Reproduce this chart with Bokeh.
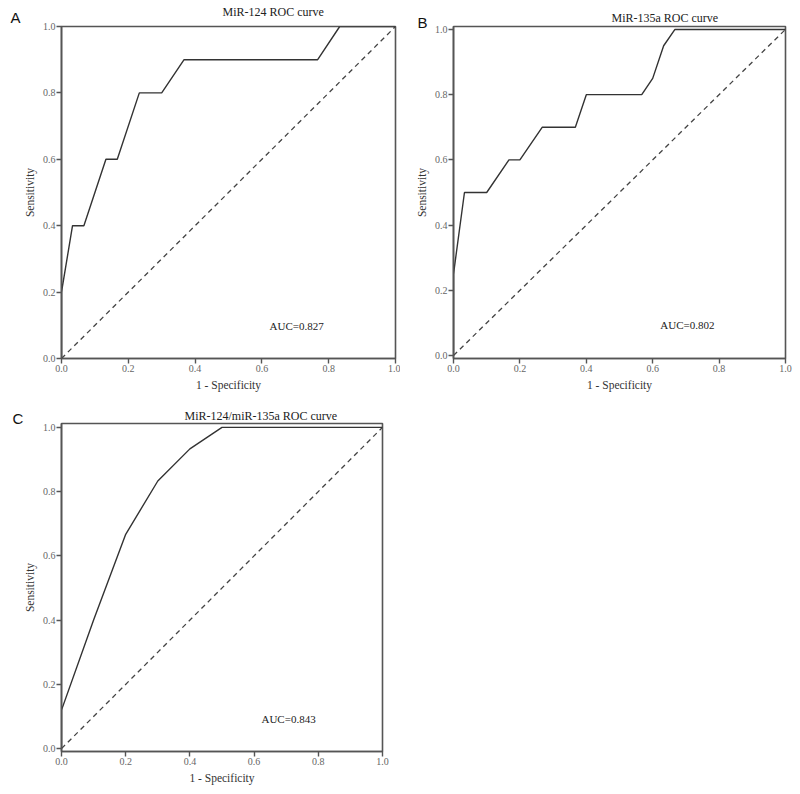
from bokeh.plotting import figure
from bokeh.models import Range1d, FixedTicker, PrintfTickFormatter, Label, Title
from bokeh.layouts import column, row
from bokeh.embed import file_html
from bokeh.resources import INLINE

# ---- data ----
a_fpr = [0.0, 0.0, 0.033, 0.067, 0.133, 0.167, 0.233, 0.300, 0.367, 0.767, 0.833, 1.0]
a_tpr = [0.0, 0.2, 0.4, 0.4, 0.6, 0.6, 0.8, 0.8, 0.9, 0.9, 1.0, 1.0]

b_fpr = [0.0, 0.0, 0.033, 0.100, 0.167, 0.200, 0.267, 0.367, 0.400, 0.567, 0.600, 0.633, 0.667, 1.0]
b_tpr = [0.0, 0.25, 0.5, 0.5, 0.6, 0.6, 0.7, 0.7, 0.8, 0.8, 0.85, 0.95, 1.0, 1.0]

c_fpr = [0.0, 0.0, 0.1, 0.2, 0.3, 0.4, 0.5, 1.0]
c_tpr = [0.0, 0.12, 0.40, 0.667, 0.833, 0.933, 1.0, 1.0]

ref_x = [0.0, 1.0]
ref_y = [0.0, 1.0]

tick_values = [0.0, 0.2, 0.4, 0.6, 0.8, 1.0]

titles = ["MiR-124 ROC curve", "MiR-135a ROC curve", "MiR-124/miR-135a ROC curve"]
auc_texts = ["AUC=0.827", "AUC=0.802", "AUC=0.843"]
letters = ["A", "B", "C"]
x_label = "1 - Specificity"
y_label = "Sensitivity"

SERIF = "Liberation Serif"
SANS = "Liberation Sans"
AX = "#555555"

# approximate text-box metrics used to place the two stacked titles
H_L, ASC_L = 16.7, 13.5     # 15px sans letter
H_T, DESC_T = 13.3, 2.6     # 12px serif title


def standoffs(F, letter_base, title_base):
    Tt = letter_base - ASC_L
    Tb = title_base + DESC_T
    d = max(0.0, (-(1.5 + H_T) / 2 + F - 2 - H_L - 2 * Tt + Tb) / 3)
    s1 = 2 * (F - 2 - H_L - (Tt + d))
    size_in = 2 + H_L + s1
    s2 = 2 * ((F - size_in) - (Tb - d))
    return s1, s2


def panel(fx, ty, width, height, borders, yr, title, letter, title_off,
          letter_off, letter_base, title_base):
    left, right, top, bottom = borders
    p = figure(width=width, height=height, output_backend="svg",
               toolbar_location=None, x_range=Range1d(0, 1),
               y_range=Range1d(*yr), min_border_left=left,
               min_border_right=right, min_border_top=top,
               min_border_bottom=bottom)
    s1, s2 = standoffs(top, letter_base, title_base)
    p.title = Title(text=title, align="left", offset=title_off, text_font=SERIF,
                    text_font_size="12px", text_font_style="normal",
                    text_color="#222222", standoff=s2, vertical_align="bottom")
    p.add_layout(Title(text=letter, align="left", offset=letter_off,
                       text_font=SANS, text_font_size="15px",
                       text_font_style="normal", text_color="#111111",
                       standoff=s1, vertical_align="top"), "above")
    p.grid.visible = False
    p.outline_line_color = AX
    p.outline_line_width = 1.6
    for ax in (p.xaxis[0], p.yaxis[0]):
        ax.ticker = FixedTicker(ticks=tick_values)
        ax.formatter = PrintfTickFormatter(format="%.1f")
        ax.axis_line_color = AX
        ax.axis_line_width = 1.6
        ax.major_tick_line_color = AX
        ax.major_tick_line_width = 1.4
        ax.major_tick_out = 5
        ax.major_tick_in = 0
        ax.minor_tick_line_color = None
        ax.major_label_text_font = SERIF
        ax.major_label_text_font_size = "10px"
        ax.major_label_text_color = "#666666"
        ax.major_label_standoff = 1
        ax.axis_label_text_font = SERIF
        ax.axis_label_text_font_size = "11.5px"
        ax.axis_label_text_font_style = "normal"
        ax.axis_label_text_color = "#333333"
        ax.axis_label_standoff = 4
    p.xaxis.axis_label = x_label
    p.yaxis.axis_label = y_label
    p.line(ref_x, ref_y, line_color="#444444", line_width=1.3, line_dash="5 4")
    p.line(fx, ty, line_color="#333333", line_width=1.4)
    return p


pA = panel(a_fpr, a_tpr, 400, 400, (61, 5, 26, 42), (0.0, 1.0),
           titles[0], letters[0], 161, -51, 21, 18)
pB = panel(b_fpr, b_tpr, 400, 400, (53, 15, 21, 41), (-0.009, 1.009),
           titles[1], letters[1], 158, -36, 21.7, 17)
pC = panel(c_fpr, c_tpr, 400, 392, (61, 18, 23, 41), (-0.009, 1.012),
           titles[2], letters[2], 123, -49, 23, 20)

for p, auc, ypos in ((pA, auc_texts[0], 0.099), (pB, auc_texts[1], 0.093), (pC, auc_texts[2], 0.093)):
    p.add_layout(Label(x=0.623, y=ypos, text=auc, text_font=SERIF,
                       text_font_size="11px", text_color="#222222",
                       text_baseline="middle", text_align="left"))

layout = column(row(pA, pB), pC)
open("out.html", "w").write(file_html(layout, INLINE))
